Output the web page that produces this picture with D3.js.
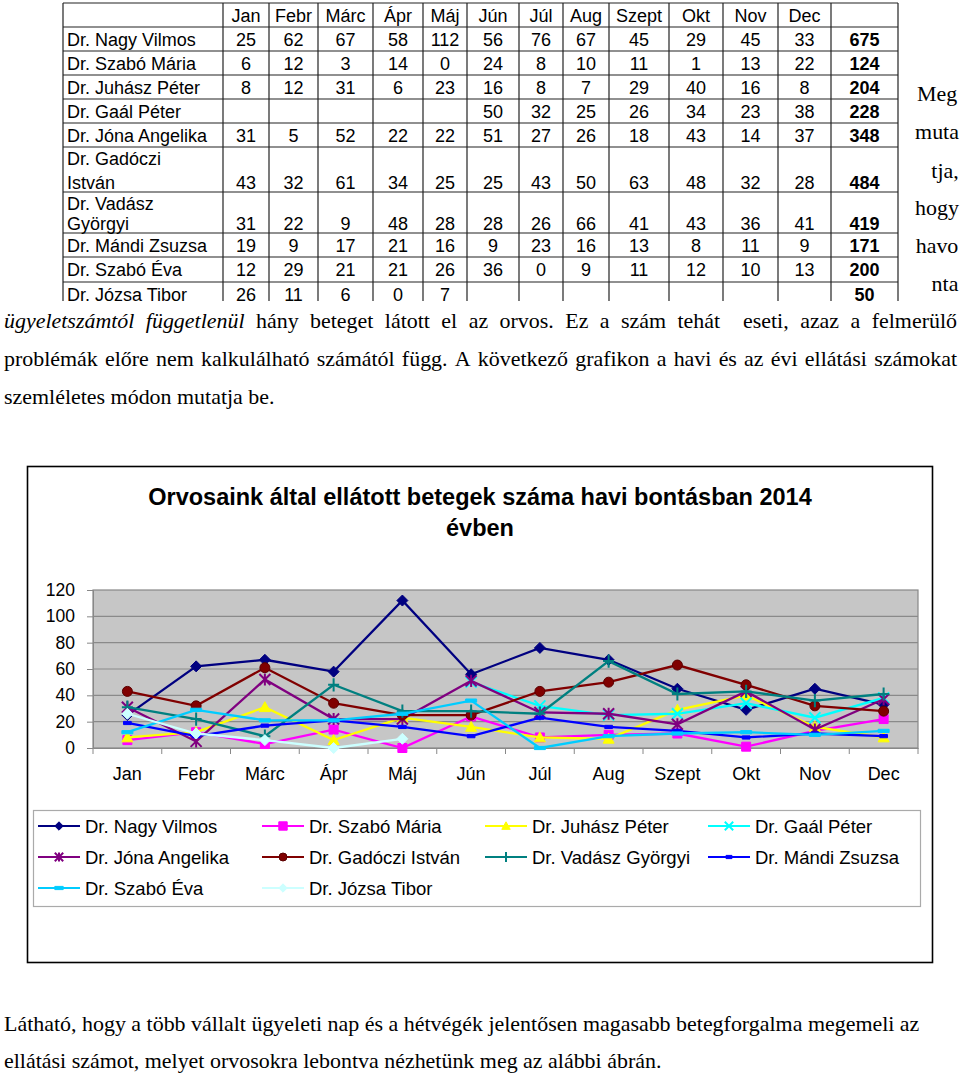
<!DOCTYPE html>
<html><head><meta charset="utf-8">
<script src="https://cdn.jsdelivr.net/npm/d3@7"></script>
<style>
html,body{margin:0;padding:0;background:#fff;}
svg{display:block;}
</style></head>
<body>
<svg id="page" width="960" height="1073"></svg>
<script>
// ---------- DATA ----------
const months = ["Jan","Febr","Márc","Ápr","Máj","Jún","Júl","Aug","Szept","Okt","Nov","Dec"];
const names = ["Dr. Nagy Vilmos","Dr. Szabó Mária","Dr. Juhász Péter","Dr. Gaál Péter","Dr. Jóna Angelika",
  "Dr. Gadóczi István","Dr. Vadász Györgyi","Dr. Mándi Zsuzsa","Dr. Szabó Éva","Dr. Józsa Tibor"];
const nagyVilmos    = [25,62,67,58,112,56,76,67,45,29,45,33];
const szaboMaria    = [6,12,3,14,0,24,8,10,11,1,13,22];
const juhaszPeter   = [8,12,31,6,23,16,8,7,29,40,16,8];
const gaalPeter     = [null,null,null,null,null,50,32,25,26,34,23,38];
const jonaAngelika  = [31,5,52,22,22,51,27,26,18,43,14,37];
const gadocziIstvan = [43,32,61,34,25,25,43,50,63,48,32,28];
const vadaszGyorgyi = [31,22,9,48,28,28,26,66,41,43,36,41];
const mandiZsuzsa   = [19,9,17,21,16,9,23,16,13,8,11,9];
const szaboEva      = [12,29,21,21,26,36,0,9,11,12,10,13];
const jozsaTibor    = [26,11,6,0,7,null,null,null,null,null,null,null];
const totals = [675,124,204,228,348,484,419,171,200,50];
const yTicks = [0,20,40,60,80,100,120];
const chartTitle = ["Orvosaink által ellátott betegek száma havi bontásban 2014","évben"];
const seriesValues = [nagyVilmos,szaboMaria,juhaszPeter,gaalPeter,jonaAngelika,gadocziIstvan,vadaszGyorgyi,mandiZsuzsa,szaboEva,jozsaTibor];

// ---------- STYLES ----------
const colors = ["#000080","#FF00FF","#FFFF00","#00FFFF","#800080","#800000","#008080","#0000FF","#00CCFF","#CCFFFF"];
const markers = ["diamond","square","triangle","x","star","circle","plus","dash","wdash","diamond"];
const SANS = "Liberation Sans, Arial, sans-serif";
const SERIF = "Liberation Serif, 'Times New Roman', serif";

const svg = d3.select("#page");

// ---------- TABLE ----------
const colEdges = [63,223,269,318,373,423,467,519,563,609,669,723,778,831,898];
const rowEdges = [3,27,51,75,99,123,147,192,233,257,282,306];
const tbl = svg.append("g");
svg.append("clipPath").attr("id","tclip").append("rect").attr("x",0).attr("y",0).attr("width",960).attr("height",301);
tbl.attr("clip-path","url(#tclip)");
rowEdges.forEach(y=>tbl.append("line").attr("x1",colEdges[0]).attr("x2",colEdges[colEdges.length-1]).attr("y1",y).attr("y2",y).attr("stroke","#222").attr("stroke-width",1.2));
colEdges.forEach(x=>tbl.append("line").attr("x1",x).attr("x2",x).attr("y1",rowEdges[0]).attr("y2",rowEdges[rowEdges.length-1]).attr("stroke","#222").attr("stroke-width",1.2));
const tfs = 18;
function cellText(txt, cx, cy, anchor, bold){
  tbl.append("text").attr("x",cx).attr("y",cy+6.5).attr("text-anchor",anchor)
    .attr("font-family",SANS).attr("font-size",tfs).attr("font-weight",bold?"bold":"normal").attr("fill","#000").text(txt);
}
months.forEach((m,i)=>cellText(m,(colEdges[i+1]+colEdges[i+2])/2,(rowEdges[0]+rowEdges[1])/2,"middle"));
names.forEach((nm,r)=>{
  const top=rowEdges[r+1], bot=rowEdges[r+2], h=bot-top;
  const valCy = h>30 ? bot-9.5 : (top+bot)/2;
  if(h>30){
    const k = nm.lastIndexOf(" ");
    cellText(nm.slice(0,k), colEdges[0]+4, top+11, "start");
    cellText(nm.slice(k+1), colEdges[0]+4, valCy, "start");
  } else cellText(nm, colEdges[0]+4, valCy, "start");
  seriesValues[r].forEach((v,i)=>{ if(v!==null) cellText(String(v),(colEdges[i+1]+colEdges[i+2])/2,valCy,"middle"); });
  cellText(String(totals[r]),(colEdges[13]+colEdges[14])/2,valCy,"middle",true);
});

// ---------- SERIF TEXT ----------
const probe = svg.append("text").attr("font-family",SERIF).attr("font-size",20)
  .text("Látható, hogy a több vállalt ügyeleti nap és a hétvégék jelentősen magasabb betegforgalma megemeli az");
const sfs = 20*916/probe.node().getComputedTextLength();
probe.remove();

function wordsLine(segments, x0, x1, y, justify){
  const g = svg.append("g");
  const items=[];
  segments.forEach(seg=>{
    seg.text.split(" ").forEach((w,idx)=>{
      if(w===""){ if(items.length) items[items.length-1].extra=(items[items.length-1].extra||0)+1; return; }
      const t=g.append("text").attr("y",y).attr("font-family",SERIF).attr("font-size",sfs)
        .attr("font-style",seg.italic?"italic":"normal").attr("fill","#000").text(w);
      items.push({t,w:t.node().getComputedTextLength(),extra:0, joinPrev: idx===0 && !seg.spaceBefore && items.length>0});
    });
  });
  const spaceW = sfs*0.25;
  let totalW = d3.sum(items,d=>d.w);
  let gaps=0; items.forEach((d,i)=>{ if(i>0 && !d.joinPrev) gaps+=1+(items[i-1].extra||0); });
  const gap = justify ? (x1-x0-totalW)/gaps : spaceW;
  let x=x0;
  items.forEach((d,i)=>{
    if(i>0 && !d.joinPrev) x+=gap*(1+(items[i-1].extra||0));
    d.t.attr("x",x); x+=d.w;
  });
}
wordsLine([{text:"ügyeletszámtól függetlenül",italic:true},{text:"hány beteget látott el az orvos. Ez a szám tehát  eseti, azaz a felmerülő",spaceBefore:true}],4,957,328,true);
wordsLine([{text:"problémák előre nem kalkulálható számától függ. A következő grafikon a havi és az évi ellátási számokat"}],4,957,366,true);
wordsLine([{text:"szemléletes módon mutatja be."}],4,957,404,false);
wordsLine([{text:"Látható, hogy a több vállalt ügyeleti nap és a hétvégék jelentősen magasabb betegforgalma megemeli az"}],4,957,1031,false);
wordsLine([{text:"ellátási számot, melyet orvosokra lebontva nézhetünk meg az alábbi ábrán."}],4,957,1068,false);
[["Meg",101],["muta",139],["tja,",178],["hogy",215],["havo",253],["nta",291]].forEach(([w,y])=>{
  svg.append("text").attr("x",w==="tja,"||w==="nta"?945:937).attr("y",y).attr("text-anchor","middle")
    .attr("font-family",SERIF).attr("font-size",sfs).attr("fill","#000").text(w);
});

// ---------- CHART ----------
svg.append("rect").attr("x",27.5).attr("y",466.5).attr("width",905).attr("height",496)
  .attr("fill","#fff").attr("stroke","#000").attr("stroke-width",1.6);
chartTitle.forEach((t,i)=>svg.append("text").attr("x",480).attr("y",505+i*31).attr("text-anchor","middle")
  .attr("font-family",SANS).attr("font-weight","bold").attr("font-size",23.5).attr("fill","#000").text(t));

const x = d3.scaleBand().domain(months).range([93,918]);
const y = d3.scaleLinear().domain([0,120]).range([748,590]);

svg.append("rect").attr("x",93).attr("y",y(120)).attr("width",825).attr("height",y(0)-y(120))
  .attr("fill","#c6c6c6").attr("stroke","#888").attr("stroke-width",1.2);
svg.append("g").selectAll("line").data(yTicks.filter(v=>v>0&&v<120)).join("line")
  .attr("x1",93).attr("x2",918).attr("y1",d=>y(d)).attr("y2",d=>y(d)).attr("stroke","#8a8a8a").attr("stroke-width",1.2);

const yAxis = svg.append("g").attr("transform","translate(93,0)")
  .call(d3.axisLeft(y).tickValues(yTicks).tickSize(6).tickPadding(12).tickFormat(d3.format("d")));
yAxis.select(".domain").attr("stroke","#888");
yAxis.selectAll(".tick line").attr("stroke","#888");
yAxis.selectAll("text").attr("font-family",SANS).attr("font-size",17.5).attr("fill","#000");

const xAxis = svg.append("g").attr("transform","translate(0,748)")
  .call(d3.axisBottom(x).tickSize(0).tickPadding(19));
xAxis.select(".domain").attr("stroke","#888");
xAxis.selectAll("text").attr("font-family",SANS).attr("font-size",18).attr("fill","#000");
svg.append("g").selectAll("line").data(months.map(m=>x(m)).concat([x(months[11])+x.bandwidth()])).join("line")
  .attr("x1",d=>d).attr("x2",d=>d).attr("y1",748).attr("y2",754).attr("stroke","#888");

function markerPath(type,s){
  switch(type){
    case "diamond": return `M0,${-s}L${s},0L0,${s}L${-s},0Z`;
    case "square": return `M${-s},${-s}H${s}V${s}H${-s}Z`;
    case "triangle": return `M0,${-s}L${s},${s*0.8}L${-s},${s*0.8}Z`;
    case "x": return `M${-s},${-s}L${s},${s}M${-s},${s}L${s},${-s}`;
    case "star": return `M${-s},${-s}L${s},${s}M${-s},${s}L${s},${-s}M0,${-s*1.1}L0,${s*1.1}`;
    case "plus": return `M${-s},0L${s},0M0,${-s*1.2}L0,${s*1.2}`;
    case "dash": return `M${-s*0.7},-1.6H${s*0.7}V1.6H${-s*0.7}Z`;
    case "wdash": return `M${-s},-1.6H${s}V1.6H${-s}Z`;
  }
}
function drawMarker(g,type,color,s,cx,cy){
  if(type==="circle"){
    g.append("circle").attr("cx",cx).attr("cy",cy).attr("r",s).attr("fill",color).attr("stroke","#5a0000").attr("stroke-width",1);
    return;
  }
  const open = (type==="x"||type==="star"||type==="plus");
  g.append("path").attr("d",markerPath(type,s)).attr("transform",`translate(${cx},${cy})`)
    .attr("fill",open?"none":color).attr("stroke",color).attr("stroke-width",open?2:1);
}
const cx = m=>x(m)+x.bandwidth()/2;
const line = d3.line().defined(d=>d.v!==null).x(d=>cx(d.m)).y(d=>y(d.v));
seriesValues.forEach((vals,si)=>{
  const g = svg.append("g");
  const pts = months.map((m,i)=>({m,v:vals[i]}));
  g.append("path").attr("d",line(pts)).attr("fill","none").attr("stroke",colors[si]).attr("stroke-width",2.3);
  const s = markers[si]==="square"?4.5:(markers[si]==="circle"?5:5.5);
  pts.filter(d=>d.v!==null).forEach(d=>drawMarker(g,markers[si],colors[si],s,cx(d.m),y(d.v)));
});

// ---------- LEGEND ----------
svg.append("rect").attr("x",33.5).attr("y",810.5).attr("width",887).attr("height",96)
  .attr("fill","#fff").attr("stroke","#aaa").attr("stroke-width",1.2);
const legCols = [38,262,485,708];
const legRows = [826,857,888];
names.forEach((nm,i)=>{
  const lx = legCols[i%4], ly = legRows[Math.floor(i/4)];
  const g = svg.append("g");
  g.append("line").attr("x1",lx).attr("x2",lx+42).attr("y1",ly).attr("y2",ly).attr("stroke",colors[i]).attr("stroke-width",2);
  const s = markers[i]==="circle"?4:4.2;
  drawMarker(g,markers[i],colors[i],s,lx+21,ly);
  g.append("text").attr("x",lx+47).attr("y",ly+6.5).attr("font-family",SANS).attr("font-size",18.5).attr("fill","#000").text(nm);
});
</script>
</body></html>
